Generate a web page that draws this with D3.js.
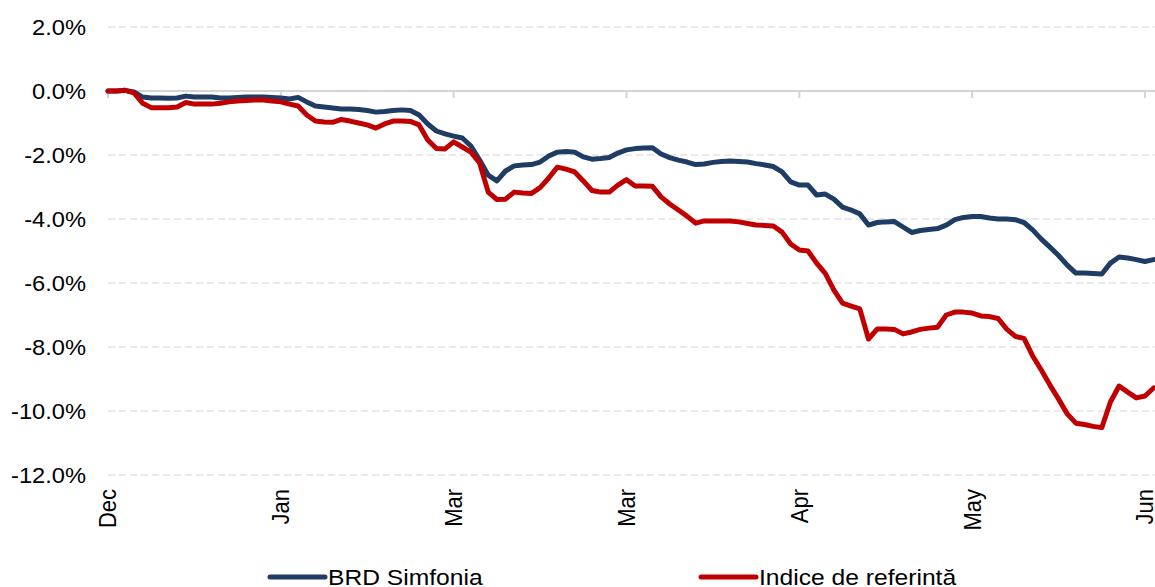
<!DOCTYPE html>
<html>
<head>
<meta charset="utf-8">
<script src="https://cdn.jsdelivr.net/npm/d3@7"></script>
<style>
  html, body { margin: 0; padding: 0; background: #fff; }
  svg { display: block; }
  text { font-family: "Liberation Sans", Arial, sans-serif; fill: #000; }
</style>
</head>
<body>
<svg id="chart" width="1155" height="587"></svg>
<script>
// ---- data (percent) ----
const tickLabels = ["Dec", "Jan", "Mar", "Mar", "Apr", "May", "Jun"];
const tickIndex = [0, 20, 40, 60, 80, 100, 120];
const yTicks = [2, 0, -2, -4, -6, -8, -10, -12];
const seriesNames = ["BRD Simfonia", "Indice de referintă"];

const brdSimfonia = [
  0.0, 0.0, 0.02, -0.03, -0.19, -0.22, -0.22, -0.23, -0.22, -0.16,
  -0.19, -0.19, -0.19, -0.22, -0.22, -0.2, -0.19, -0.19, -0.19, -0.2,
  -0.22, -0.25, -0.2, -0.34, -0.47, -0.5, -0.53, -0.56, -0.56, -0.58,
  -0.61, -0.66, -0.64, -0.61, -0.59, -0.61, -0.75, -1.03, -1.25, -1.34,
  -1.41, -1.47, -1.72, -2.16, -2.63, -2.81, -2.5, -2.34, -2.31, -2.3,
  -2.22, -2.03, -1.91, -1.89, -1.91, -2.06, -2.13, -2.11, -2.08, -1.94,
  -1.84, -1.8, -1.78, -1.77, -1.97, -2.08, -2.16, -2.22, -2.3, -2.28,
  -2.23, -2.2, -2.19, -2.2, -2.22, -2.27, -2.31, -2.36, -2.53, -2.84,
  -2.94, -2.94, -3.25, -3.22, -3.38, -3.63, -3.72, -3.84, -4.19, -4.11,
  -4.09, -4.08, -4.25, -4.42, -4.36, -4.33, -4.3, -4.19, -4.02, -3.95,
  -3.92, -3.92, -3.97, -4.0, -4.0, -4.02, -4.11, -4.34, -4.63, -4.88,
  -5.14, -5.44, -5.69, -5.69, -5.7, -5.72, -5.38, -5.19, -5.22, -5.27,
  -5.33, -5.27
];

const indiceReferinta = [
  0.0, 0.0, 0.02, -0.06, -0.38, -0.52, -0.52, -0.52, -0.5, -0.36,
  -0.41, -0.41, -0.41, -0.38, -0.34, -0.31, -0.3, -0.28, -0.28, -0.31,
  -0.34, -0.41, -0.47, -0.75, -0.94, -0.97, -0.98, -0.89, -0.94, -1.0,
  -1.06, -1.16, -1.03, -0.94, -0.94, -0.95, -1.06, -1.53, -1.8, -1.81,
  -1.59, -1.75, -1.91, -2.25, -3.16, -3.39, -3.38, -3.16, -3.19, -3.2,
  -3.02, -2.72, -2.38, -2.44, -2.53, -2.81, -3.11, -3.16, -3.16, -2.94,
  -2.77, -2.97, -2.97, -2.98, -3.31, -3.53, -3.72, -3.91, -4.13, -4.06,
  -4.06, -4.06, -4.06, -4.09, -4.14, -4.19, -4.2, -4.22, -4.41, -4.78,
  -4.97, -5.0, -5.38, -5.7, -6.22, -6.63, -6.72, -6.81, -7.75, -7.44,
  -7.44, -7.45, -7.59, -7.53, -7.45, -7.41, -7.38, -7.0, -6.91, -6.91,
  -6.94, -7.03, -7.05, -7.11, -7.44, -7.67, -7.73, -8.28, -8.72, -9.19,
  -9.63, -10.09, -10.38, -10.42, -10.48, -10.52, -9.72, -9.22, -9.41, -9.59,
  -9.53, -9.28
];

const colors = ["#1f3c64", "#c00000"];

// ---- layout ----
const svg = d3.select("#chart");
const x = d3.scaleLinear().domain([0, 120]).range([108, 1145]);
const y = d3.scaleLinear().domain([-12, 2]).range([475, 27]);
const xRight = 1155;
const SX = 1.1; // horizontal stretch of the glyphs
const fmt = d => d3.format(".1f")(d).replace("\u2212", "-") + "%";

// gridlines (dashed) except zero
svg.append("g").selectAll("line")
  .data(yTicks.filter(d => d !== 0))
  .join("line")
  .attr("x1", x(0)).attr("x2", xRight)
  .attr("y1", d => y(d)).attr("y2", d => y(d))
  .attr("stroke", "#e3e3e3")
  .attr("stroke-width", 1.5)
  .attr("stroke-dasharray", "7,4");

// zero axis line with ticks
const axisG = svg.append("g");
axisG.append("line")
  .attr("x1", x(0)).attr("x2", xRight)
  .attr("y1", y(0)).attr("y2", y(0))
  .attr("stroke", "#d4d4d4").attr("stroke-width", 2);
axisG.selectAll("line.tk")
  .data(tickIndex)
  .join("line").attr("class", "tk")
  .attr("x1", d => x(d)).attr("x2", d => x(d))
  .attr("y1", y(0)).attr("y2", y(0) + 7)
  .attr("stroke", "#d4d4d4").attr("stroke-width", 2);

// y labels
svg.append("g").selectAll("text")
  .data(yTicks)
  .join("text")
  .attr("transform", d => `translate(86,${y(d)}) scale(${SX},1)`)
  .attr("text-anchor", "end")
  .attr("dy", "0.35em")
  .style("font-size", "21.5px")
  .text(fmt);

// x labels (rotated)
svg.append("g").selectAll("text")
  .data(tickIndex)
  .join("text")
  .attr("transform", d => `translate(${x(d)},489) scale(${SX},1) rotate(-90)`)
  .attr("text-anchor", "end")
  .attr("dy", "0.35em")
  .style("font-size", "22px")
  .text((d, i) => tickLabels[i]);

// lines
const line = d3.line()
  .x((d, i) => x(i))
  .y(d => y(d))
  .curve(d3.curveLinear);

[brdSimfonia, indiceReferinta].forEach((s, k) => {
  svg.append("path")
    .datum(s)
    .attr("fill", "none")
    .attr("stroke", colors[k])
    .attr("stroke-width", 5)
    .attr("stroke-linejoin", "round")
    .attr("stroke-linecap", "round")
    .attr("d", line);
});

// legend
const legendPos = [270, 701];
const lg = svg.append("g");
seriesNames.forEach((name, k) => {
  lg.append("line")
    .attr("x1", legendPos[k]).attr("x2", legendPos[k] + 55)
    .attr("y1", 577).attr("y2", 577)
    .attr("stroke", colors[k]).attr("stroke-width", 5)
    .attr("stroke-linecap", "round");
  lg.append("text")
    .attr("transform", `translate(${legendPos[k] + 58},577) scale(1.12,1)`)
    .attr("dy", "0.35em")
    .style("font-size", "22px")
    .text(name);
});
</script>
</body>
</html>
